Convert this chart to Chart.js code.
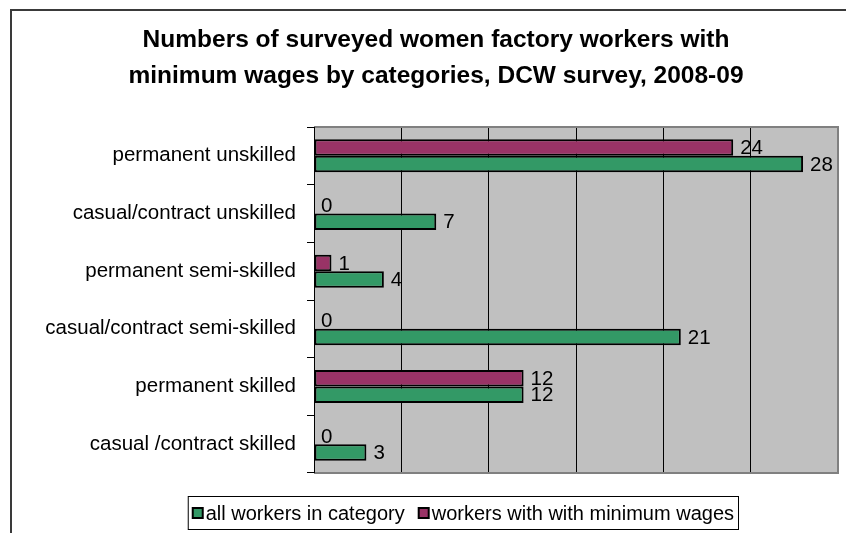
<!DOCTYPE html>
<html>
<head>
<meta charset="utf-8">
<script src="https://cdn.jsdelivr.net/npm/chart.js@4.4.1/dist/chart.umd.min.js"></script>
<style>
  html, body { margin: 0; padding: 0; background: #ffffff; }
  #wrap { width: 846px; height: 533px; position: relative; }
</style>
</head>
<body>
<div id="wrap"><canvas id="chart" width="846" height="533"></canvas></div>
<script>
// Survey data: women factory workers by category
const categories = [
  'permanent unskilled',
  'casual/contract unskilled',
  'permanent semi-skilled',
  'casual/contract semi-skilled',
  'permanent skilled',
  'casual /contract skilled'
];
const allWorkers = [28, 7, 4, 21, 12, 3];
const minWageWorkers = [24, 0, 1, 0, 12, 0];
const seriesNames = ['all workers in category', 'workers with with minimum wages'];
const titleLines = [
  'Numbers of surveyed women factory workers with',
  'minimum wages by categories, DCW survey, 2008-09'
];
const xMax = 30;
const xStep = 5;

const FONT = '"Liberation Sans", Arial, Helvetica, sans-serif';
const GREEN = '#339966';
const PLUM = '#993366';
const PLOT_BG = '#C0C0C0';
const EDGE_GRAY = '#808080';

// Outer chart frame and grey plot background
const frameAndBackground = {
  id: 'frameAndBackground',
  beforeDraw(chart) {
    const { ctx, chartArea: a } = chart;
    ctx.save();
    ctx.fillStyle = '#ffffff';
    ctx.fillRect(0, 0, chart.width, chart.height);
    ctx.strokeStyle = '#3a3a3a';
    ctx.lineWidth = 2;
    ctx.beginPath();
    ctx.moveTo(11, chart.height + 2);
    ctx.lineTo(11, 10);
    ctx.lineTo(chart.width + 2, 10);
    ctx.stroke();
    ctx.fillStyle = PLOT_BG;
    ctx.fillRect(a.left, a.top, a.right - a.left, a.bottom - a.top);
    ctx.restore();
  },
  afterDatasetsDraw(chart) {
    const { ctx, chartArea: a } = chart;
    ctx.save();
    ctx.strokeStyle = EDGE_GRAY;
    ctx.lineWidth = 2;
    ctx.beginPath();
    ctx.moveTo(a.left, a.top);
    ctx.lineTo(a.right, a.top);
    ctx.lineTo(a.right, a.bottom);
    ctx.lineTo(a.left, a.bottom);
    ctx.stroke();
    ctx.strokeStyle = '#000000';
    ctx.lineWidth = 1;
    ctx.beginPath();
    ctx.moveTo(a.left + 0.5, a.top);
    ctx.lineTo(a.left + 0.5, a.bottom);
    ctx.stroke();
    ctx.restore();
  }
};

// Value labels at the end of each bar
const barValueLabels = {
  id: 'barValueLabels',
  afterDatasetsDraw(chart) {
    const { ctx } = chart;
    ctx.save();
    ctx.font = '20.5px ' + FONT;
    ctx.fillStyle = '#000000';
    ctx.textAlign = 'left';
    ctx.textBaseline = 'middle';
    chart.data.datasets.forEach((ds, di) => {
      const meta = chart.getDatasetMeta(di);
      meta.data.forEach((bar, i) => {
        ctx.fillText(String(ds.data[i]), bar.x + 7, bar.y + 1);
      });
    });
    ctx.restore();
  }
};

// Boxed legend under the plot
const boxedLegend = {
  id: 'boxedLegend',
  afterDraw(chart) {
    const { ctx } = chart;
    const items = [
      { text: seriesNames[0], color: GREEN },
      { text: seriesNames[1], color: PLUM }
    ];
    ctx.save();
    ctx.font = '20px ' + FONT;
    const sq = 10, gapAfterSq = 3, gapItems = 14, padX = 5;
    const widths = items.map(it => sq + gapAfterSq + ctx.measureText(it.text).width);
    const inner = widths[0] + gapItems + widths[1];
    const boxRight = 739, boxTop = 496, boxBottom = 530;
    const boxLeft = boxRight - inner - padX * 2;
    ctx.fillStyle = '#ffffff';
    ctx.fillRect(boxLeft, boxTop, boxRight - boxLeft, boxBottom - boxTop);
    ctx.strokeStyle = '#000000';
    ctx.lineWidth = 1;
    ctx.strokeRect(boxLeft + 0.5, boxTop + 0.5, boxRight - boxLeft - 1, boxBottom - boxTop - 1);
    const cy = (boxTop + boxBottom) / 2;
    let x = boxLeft + padX;
    items.forEach((it, i) => {
      ctx.fillStyle = it.color;
      ctx.fillRect(x, cy - sq / 2, sq, sq);
      ctx.strokeStyle = '#000000';
      ctx.lineWidth = 2;
      ctx.strokeRect(x, cy - sq / 2, sq, sq);
      ctx.fillStyle = '#000000';
      ctx.textBaseline = 'middle';
      ctx.textAlign = 'left';
      ctx.fillText(it.text, x + sq + gapAfterSq, cy + 1);
      x += widths[i] + gapItems;
    });
    ctx.restore();
  }
};

const PLOT_LEFT = 314;
const PAD_LEFT = 34;

new Chart(document.getElementById('chart'), {
  type: 'bar',
  data: {
    labels: categories,
    datasets: [
      {
        label: seriesNames[1],
        data: minWageWorkers,
        backgroundColor: PLUM,
        borderColor: '#000000',
        borderWidth: 2,
        borderSkipped: false,
        categoryPercentage: 2 / 3.5,
        barPercentage: 1.0
      },
      {
        label: seriesNames[0],
        data: allWorkers,
        backgroundColor: GREEN,
        borderColor: '#000000',
        borderWidth: 2,
        borderSkipped: false,
        categoryPercentage: 2 / 3.5,
        barPercentage: 1.0
      }
    ]
  },
  options: {
    indexAxis: 'y',
    responsive: false,
    animation: false,
    devicePixelRatio: 1,
    layout: { padding: { left: PAD_LEFT, right: 8, top: 0, bottom: 60 } },
    plugins: {
      legend: { display: false },
      tooltip: { enabled: false },
      title: {
        display: true,
        text: titleLines,
        color: '#000000',
        font: { family: FONT, size: 24.5, weight: 'bold', lineHeight: 36 / 24.5 },
        padding: { top: 22, bottom: 33 }
      }
    },
    scales: {
      x: {
        min: 0,
        max: xMax,
        ticks: { display: false, stepSize: xStep },
        grid: {
          drawTicks: false,
          color: (c) => (c.tick && (c.tick.value === 0 || c.tick.value === xMax)) ? 'rgba(0,0,0,0)' : '#000000',
          lineWidth: 1
        },
        border: { display: false },
        afterFit(scale) { scale.height = 0; }
      },
      y: {
        ticks: {
          color: '#000000',
          font: { family: FONT, size: 20.5 },
          padding: 11
        },
        grid: {
          offset: true,
          drawOnChartArea: false,
          drawTicks: true,
          tickLength: 7,
          color: '#000000'
        },
        border: { display: false },
        afterFit(scale) { scale.width = PLOT_LEFT - PAD_LEFT; }
      }
    }
  },
  plugins: [frameAndBackground, barValueLabels, boxedLegend]
});
</script>
</body>
</html>
